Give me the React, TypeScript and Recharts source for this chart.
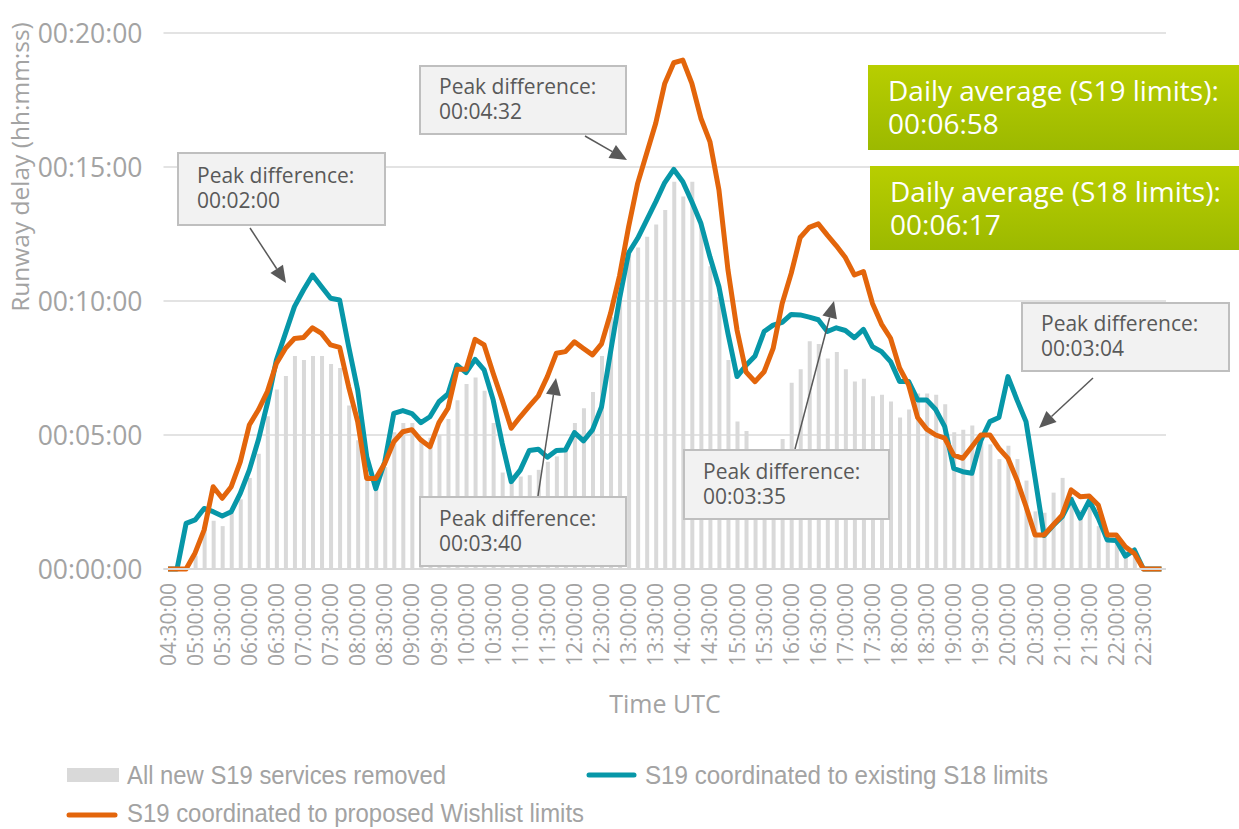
import React from 'react'
import { ComposedChart, Bar, Line, XAxis, YAxis, CartesianGrid } from 'recharts'

// 10-minute slots, 04:30 to 22:50 (UTC)
const TIMES = [
  '04:30:00', '04:40:00', '04:50:00',
  '05:00:00', '05:10:00', '05:20:00', '05:30:00', '05:40:00', '05:50:00',
  '06:00:00', '06:10:00', '06:20:00', '06:30:00', '06:40:00', '06:50:00',
  '07:00:00', '07:10:00', '07:20:00', '07:30:00', '07:40:00', '07:50:00',
  '08:00:00', '08:10:00', '08:20:00', '08:30:00', '08:40:00', '08:50:00',
  '09:00:00', '09:10:00', '09:20:00', '09:30:00', '09:40:00', '09:50:00',
  '10:00:00', '10:10:00', '10:20:00', '10:30:00', '10:40:00', '10:50:00',
  '11:00:00', '11:10:00', '11:20:00', '11:30:00', '11:40:00', '11:50:00',
  '12:00:00', '12:10:00', '12:20:00', '12:30:00', '12:40:00', '12:50:00',
  '13:00:00', '13:10:00', '13:20:00', '13:30:00', '13:40:00', '13:50:00',
  '14:00:00', '14:10:00', '14:20:00', '14:30:00', '14:40:00', '14:50:00',
  '15:00:00', '15:10:00', '15:20:00', '15:30:00', '15:40:00', '15:50:00',
  '16:00:00', '16:10:00', '16:20:00', '16:30:00', '16:40:00', '16:50:00',
  '17:00:00', '17:10:00', '17:20:00', '17:30:00', '17:40:00', '17:50:00',
  '18:00:00', '18:10:00', '18:20:00', '18:30:00', '18:40:00', '18:50:00',
  '19:00:00', '19:10:00', '19:20:00', '19:30:00', '19:40:00', '19:50:00',
  '20:00:00', '20:10:00', '20:20:00', '20:30:00', '20:40:00', '20:50:00',
  '21:00:00', '21:10:00', '21:20:00', '21:30:00', '21:40:00', '21:50:00',
  '22:00:00', '22:10:00', '22:20:00', '22:30:00', '22:40:00', '22:50:00',
]

// runway delay in minutes
const REMOVED = [
  0, 0, 0, 0.5, 1.5, 1.8, 1.6, 2.1, 2.6, 3.4,
  4.3, 5.7, 6.7, 7.2, 7.95, 7.8, 7.95, 7.95, 7.65, 7.5,
  6.1, 4.8, 3.5, 3.3, 3.8, 5.1, 5.45, 5.45, 4.9, 4.9,
  5.0, 5.6, 6.3, 6.9, 7.15, 6.65, 5.45, 3.6, 3.45, 3.45,
  3.5, 3.7, 4.0, 4.2, 4.45, 5.45, 6.0, 6.6, 7.95, 9.4,
  11.0, 11.9, 12.0, 12.4, 12.85, 13.4, 14.45, 13.9, 14.45, 12.9,
  11.3, 10.15, 7.8, 5.5, 5.15, 4.2, 4.0, 4.3, 4.85, 6.95,
  7.45, 8.5, 8.4, 7.85, 8.1, 7.45, 7.0, 7.1, 6.45, 6.5,
  6.25, 5.65, 5.95, 6.55, 6.55, 6.5, 6.15, 5.1, 5.2, 5.35,
  5.0, 4.65, 4.1, 4.6, 4.1, 3.3, 2.15, 2.1, 2.85, 3.4,
  2.7, 2.2, 2.45, 1.6, 1.35, 1.1, 0.85, 0.45, 0, 0,
  0,
]

const S18_LIMITS = [
  0, 0, 1.7, 1.83, 2.26, 2.14, 1.98, 2.14, 2.82, 3.69,
  4.81, 6.18, 7.8, 8.79, 9.79, 10.41, 10.97, 10.53, 10.1, 10.04,
  8.3, 6.68, 4.19, 3.0, 4.0, 5.81, 5.91, 5.8, 5.46, 5.68,
  6.24, 6.53, 7.61, 7.33, 7.82, 7.43, 6.31, 4.69, 3.26, 3.69,
  4.42, 4.47, 4.17, 4.42, 4.44, 5.09, 4.78, 5.19, 6.05, 8.1,
  10.1, 11.8, 12.34, 13.02, 13.7, 14.42, 14.91, 14.45, 13.7, 12.9,
  11.65, 10.53, 8.79, 7.18, 7.6, 7.95, 8.86, 9.1, 9.2, 9.5,
  9.48, 9.4, 9.3, 8.86, 9.0, 8.9, 8.63, 8.94, 8.3, 8.11,
  7.74, 7.0, 7.0, 6.31, 6.31, 5.95, 5.31, 3.75, 3.63, 3.57,
  4.8, 5.5, 5.65, 7.18, 6.31, 5.5, 3.4, 1.25, 1.62, 1.95,
  2.6, 1.9, 2.55, 1.9, 1.08, 1.06, 0.48, 0.71, 0, 0,
  0,
]

const WISHLIST = [
  0, 0, 0, 0.6, 1.46, 3.07, 2.64, 3.07, 4.0, 5.37,
  5.93, 6.62, 7.67, 8.23, 8.6, 8.64, 9.0, 8.79, 8.36, 8.27,
  6.8, 5.5, 3.38, 3.38, 3.94, 4.75, 5.12, 5.2, 4.81, 4.56,
  5.46, 6.0, 7.45, 7.45, 8.57, 8.36, 7.3, 6.31, 5.25, 5.68,
  6.08, 6.46, 7.18, 8.05, 8.11, 8.48, 8.23, 7.99, 8.4, 9.54,
  10.95, 12.77, 14.39, 15.51, 16.63, 18.12, 18.89, 18.99, 18.12, 16.82,
  15.95, 14.14, 11.16, 8.92, 7.35, 6.99, 7.36, 8.23, 9.91, 11.03,
  12.37, 12.75, 12.88, 12.46, 12.06, 11.62, 10.97, 11.1, 9.91, 9.14,
  8.61, 7.5, 6.87, 5.65, 5.22, 5.0, 4.88, 4.25, 4.13, 4.56,
  5.0, 5.0, 4.5, 4.13, 3.32, 2.33, 1.27, 1.27, 1.64, 2.01,
  2.95, 2.7, 2.72, 2.39, 1.27, 1.27, 0.83, 0.58, 0, 0,
  0,
]

const Y_TICKS = [0, 5, 10, 15, 20]

const SERIES_NAMES = [
  'All new S19 services removed',
  'S19 coordinated to existing S18 limits',
  'S19 coordinated to proposed Wishlist limits',
]

const PEAK_NOTES = ['00:02:00', '00:04:32', '00:03:40', '00:03:35', '00:03:04']
const DAILY_AVERAGES = [
  { label: 'Daily average (S19 limits):', value: '00:06:58' },
  { label: 'Daily average (S18 limits):', value: '00:06:17' },
]

const TEAL = '#0797a8'
const ORANGE = '#e3650b'
const BAR_GREY = '#d9d9d9'
const AXIS_TEXT = '#a3a3a3'
const NOTE_TEXT = '#595959'
const FONT = "'Open Sans', 'Noto Sans', sans-serif"
const LEGEND_FONT = "'Liberation Sans', Arial, sans-serif"

const rows = TIMES.map((time, i) => ({
  time,
  removed: REMOVED[i],
  s18: S18_LIMITS[i],
  wish: WISHLIST[i],
}))

const fmtMinutes = (m: number) => `00:${String(m).padStart(2, '0')}:00`

function XTick(props: any) {
  const { x, y, payload } = props
  return (
    <text
      x={x}
      y={y}
      transform={`rotate(-90 ${x} ${y})`}
      textAnchor="end"
      dy="0.36em"
      fill={AXIS_TEXT}
      fontSize={21}
      fontFamily={FONT}
    >
      {payload.value}
    </text>
  )
}

function YTick(props: any) {
  const { x, y, payload } = props
  return (
    <text x={x} y={y} textAnchor="end" dy="0.36em" fill={AXIS_TEXT} fontSize={26.5} fontFamily={FONT}>
      {fmtMinutes(payload.value)}
    </text>
  )
}

// callout boxes: [left, top, width, height], arrow from -> to
const CALLOUTS = [
  { box: [178, 153, 207, 72], from: [250, 228], to: [286, 283] },
  { box: [420, 66, 206, 68], from: [585, 136], to: [627, 160] },
  { box: [420, 497, 206, 69], from: [538, 496], to: [556, 378] },
  { box: [684, 450, 205, 69], from: [795, 449], to: [834, 301] },
  { box: [1022, 303, 207, 68], from: [1093, 378], to: [1039, 428] },
]

const GREEN_BOXES = [
  [868, 65, 371, 85],
  [870, 166, 369, 84],
]

// legend text widths in the source (its font is a condensed Arial)
const LEGEND_WIDTHS = [319, 403, 457]

function Arrow({ from, to }: { from: number[]; to: number[] }) {
  const [x1, y1] = from
  const [x2, y2] = to
  const len = Math.hypot(x2 - x1, y2 - y1)
  const ux = (x2 - x1) / len
  const uy = (y2 - y1) / len
  const hl = 17
  const hw = 7.5
  const bx = x2 - ux * hl
  const by = y2 - uy * hl
  const pts = `${x2},${y2} ${bx - uy * hw},${by + ux * hw} ${bx + uy * hw},${by - ux * hw}`
  return (
    <g>
      <line x1={x1} y1={y1} x2={bx} y2={by} stroke={NOTE_TEXT} strokeWidth={1.5} />
      <polygon points={pts} fill={NOTE_TEXT} />
    </g>
  )
}

function LegendText({ x, y, i }: { x: number; y: number; i: number }) {
  return (
    <text
      x={x}
      y={y}
      dy="0.36em"
      fill={AXIS_TEXT}
      fontSize={25}
      fontFamily={LEGEND_FONT}
      textLength={LEGEND_WIDTHS[i]}
      lengthAdjust="spacingAndGlyphs"
    >
      {SERIES_NAMES[i]}
    </text>
  )
}

function Overlay() {
  return (
    <svg
      width={1239}
      height={829}
      style={{ position: 'absolute', left: 0, top: 0, pointerEvents: 'none' }}
    >
      <defs>
        <linearGradient id="greenFill" x1="0" y1="0" x2="0" y2="1">
          <stop offset="0%" stopColor="#b8ce00" />
          <stop offset="100%" stopColor="#9cb900" />
        </linearGradient>
      </defs>

      {/* axis titles */}
      <text
        x={29}
        y={167}
        transform="rotate(-90 29 167)"
        textAnchor="middle"
        fill={AXIS_TEXT}
        fontSize={24.5}
        fontFamily={FONT}
      >
        Runway delay (hh:mm:ss)
      </text>
      <text x={665} y={713} textAnchor="middle" fill={AXIS_TEXT} fontSize={25} fontFamily={FONT}>
        Time UTC
      </text>

      {/* peak difference callouts */}
      {CALLOUTS.map((c, i) => {
        const [bx, by, bw, bh] = c.box
        return (
          <g key={i}>
            <Arrow from={c.from} to={c.to} />
            <rect x={bx} y={by} width={bw} height={bh} fill="#f2f2f2" stroke="#bfbfbf" strokeWidth={2} />
            <text fill={NOTE_TEXT} fontSize={21} fontFamily={FONT}>
              <tspan x={bx + 19} y={by + bh / 2 - 6}>Peak difference:</tspan>
              <tspan x={bx + 19} y={by + bh / 2 + 19}>{PEAK_NOTES[i]}</tspan>
            </text>
          </g>
        )
      })}

      {/* daily averages */}
      {GREEN_BOXES.map(([bx, by, bw, bh], i) => (
        <g key={i}>
          <rect x={bx} y={by} width={bw} height={bh} fill="url(#greenFill)" />
          <text fill="#ffffff" fontSize={28} fontFamily={FONT}>
            <tspan x={bx + 20} y={by + 36}>{DAILY_AVERAGES[i].label}</tspan>
            <tspan x={bx + 20} y={by + 69}>{DAILY_AVERAGES[i].value}</tspan>
          </text>
        </g>
      ))}

      {/* legend */}
      <rect x={67} y={768} width={52} height={14} fill={BAR_GREY} />
      <LegendText x={127} y={775} i={0} />
      <line x1={589} y1={775} x2={634} y2={775} stroke={TEAL} strokeWidth={5} strokeLinecap="round" />
      <LegendText x={645} y={775} i={1} />
      <line x1={69} y1={815} x2={115} y2={815} stroke={ORANGE} strokeWidth={5} strokeLinecap="round" />
      <LegendText x={127} y={813} i={2} />
    </svg>
  )
}

export default function App() {
  return (
    <div style={{ position: 'absolute', left: 0, top: 0, width: 1239, height: 829, background: '#fff' }}>
      <ComposedChart
        width={1239}
        height={829}
        data={rows}
        margin={{ top: 33, right: 73, bottom: 0, left: 0 }}
        barCategoryGap={0}
      >
        <CartesianGrid vertical={false} stroke="#e3e3e3" strokeWidth={2} />
        <XAxis
          dataKey="time"
          interval={2}
          tickLine={false}
          axisLine={{ stroke: '#d9d9d9', strokeWidth: 2 }}
          height={260}
          tickMargin={8}
          tick={<XTick />}
        />
        <YAxis
          type="number"
          domain={[0, 20]}
          ticks={Y_TICKS}
          width={163.5}
          axisLine={false}
          tickLine={false}
          tickMargin={15}
          tick={<YTick />}
        />
        <Bar dataKey="removed" name={SERIES_NAMES[0]} fill={BAR_GREY} barSize={4} isAnimationActive={false} />
        <Line
          type="linear"
          dataKey="s18"
          name={SERIES_NAMES[1]}
          stroke={TEAL}
          strokeWidth={5}
          strokeLinejoin="round"
          dot={false}
          isAnimationActive={false}
        />
        <Line
          type="linear"
          dataKey="wish"
          name={SERIES_NAMES[2]}
          stroke={ORANGE}
          strokeWidth={5}
          strokeLinejoin="round"
          dot={false}
          isAnimationActive={false}
        />
      </ComposedChart>
      <Overlay />
    </div>
  )
}
